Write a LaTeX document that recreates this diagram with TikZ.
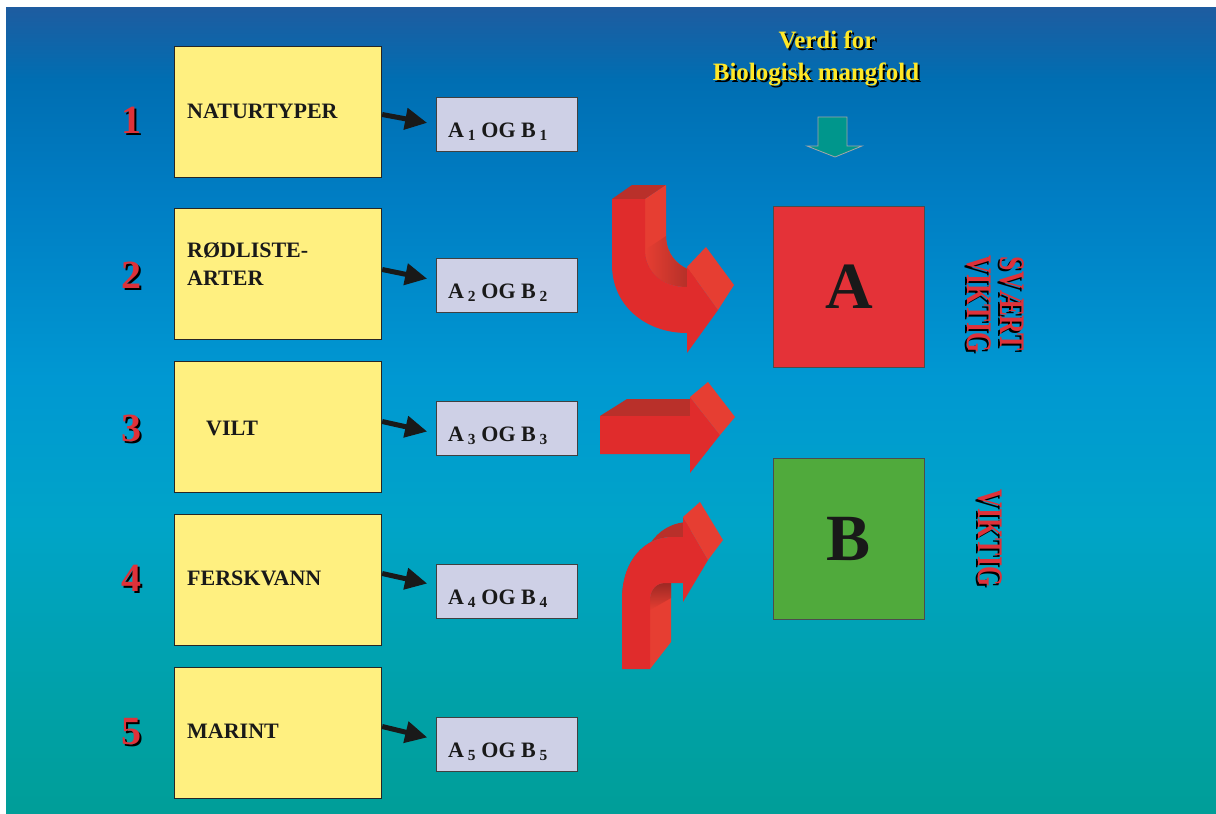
\documentclass[tikz,border=0pt]{standalone}
\usepackage{fontspec}
\setmainfont{Liberation Serif}
\usepackage{graphicx}
\usetikzlibrary{arrows.meta,calc}

\definecolor{gul}{RGB}{255,240,128}
\definecolor{lilla}{RGB}{206,208,230}
\definecolor{tallrod}{RGB}{222,50,58}
\definecolor{overgul}{RGB}{255,232,40}
\definecolor{boksrod}{RGB}{228,50,56}
\definecolor{boksgronn}{RGB}{80,170,60}
\definecolor{turkis}{RGB}{0,150,140}
\definecolor{pilrod}{RGB}{224,44,44}
\definecolor{pilmork}{RGB}{185,48,42}
\definecolor{pillys}{RGB}{230,62,50}
\definecolor{bg0}{RGB}{0,158,152}
\definecolor{bg1}{RGB}{0,161,168}
\definecolor{bg2}{RGB}{0,164,200}
\definecolor{bg3}{RGB}{0,152,210}
\definecolor{bg4}{RGB}{0,126,196}
\definecolor{bg5}{RGB}{0,110,178}
\definecolor{bg6}{RGB}{30,92,160}

\pgfdeclareverticalshading{bakgrunn}{100bp}{color(0bp)=(bg0); color(25bp)=(bg0); color(32bp)=(bg1); color(43bp)=(bg2); color(52bp)=(bg3); color(63bp)=(bg4); color(70.5bp)=(bg5); color(75bp)=(bg6); color(100bp)=(bg6)}

\begin{document}
\begin{tikzpicture}[x=1pt, y=-1pt,
  gulboks/.style={draw=black!85, line width=1.2pt, fill=gul, anchor=north west, minimum width=207pt, minimum height=131pt, inner sep=0pt},
  smaboks/.style={draw=black!75, line width=1pt, fill=lilla, anchor=north west, minimum width=141pt, minimum height=54pt, inner sep=0pt},
  boksetekst/.style={anchor=base west, inner sep=0pt, font=\fontsize{22}{28}\selectfont\bfseries, text=black!90},
  smatekst/.style={anchor=base west, inner sep=0pt, font=\fontsize{22}{25}\selectfont\bfseries, text=black!90},
  tall/.style={anchor=base, inner sep=0pt, font=\fontsize{40}{40}\selectfont\bfseries, text=tallrod},
  overskrift/.style={anchor=base, inner sep=0pt, font=\fontsize{25}{30}\selectfont\bfseries, text=overgul},
  viktig/.style={rotate=-90, inner sep=0pt, align=center, font=\fontsize{36}{33}\selectfont\bfseries, text=tallrod},
  stor/.style={anchor=north west, draw=black!70, line width=0.8pt, minimum width=151pt, minimum height=161pt, inner sep=0pt, font=\fontsize{66}{66}\selectfont\bfseries, text=black!90},
  pil/.style={line width=5pt, black!90, -{Triangle[length=22pt, width=21pt]}, shorten >=9pt}]

\useasboundingbox (0,0) rectangle (1216,814);

\shade[shading=bakgrunn] (6,7) rectangle (1216,814);

\node[overskrift, text=black] (h1s) at (829,50) {Verdi for};

\node[overskrift] (h1) at (827,48) {Verdi for};

\node[overskrift, text=black] (h2s) at (818,82) {Biologisk mangfold};

\node[overskrift] (h2) at (816,80) {Biologisk mangfold};

\filldraw[fill=turkis, draw=gray!70, line width=0.8pt] (818,117) -- (847,117) -- (847,146) -- (862,146) -- (835,157) -- (807,146) -- (818,146) -- cycle;

\node[gulboks] (y1) at (174,46) {};

\node[gulboks] (y2) at (174,208) {};

\node[gulboks] (y3) at (174,361) {};

\node[gulboks] (y4) at (174,514) {};

\node[gulboks] (y5) at (174,667) {};

\node[boksetekst] (t1) at (187,118) {NATURTYPER};

\node[boksetekst, anchor=west, align=left] (t2) at (187,264) {RØDLISTE-\\ARTER};

\node[boksetekst] (t3) at (206,435) {VILT};

\node[boksetekst] (t4) at (187,585) {FERSKVANN};

\node[boksetekst] (t5) at (187,738) {MARINT};

\node[tall, text=black] (n1s) at (133,135) {1};
\node[tall] (n1) at (131,133) {1};

\node[tall, text=black] (n2s) at (133,290) {2};
\node[tall] (n2) at (131,288) {2};

\node[tall, text=black] (n3s) at (133,443) {3};
\node[tall] (n3) at (131,441) {3};

\node[tall, text=black] (n4s) at (133,593) {4};
\node[tall] (n4) at (131,591) {4};

\node[tall, text=black] (n5s) at (133,746) {5};
\node[tall] (n5) at (131,744) {5};

\node[smaboks] (s1) at (436,97) {};

\node[smaboks] (s2) at (436,258) {};

\node[smaboks] (s3) at (436,401) {};

\node[smaboks] (s4) at (436,564) {};

\node[smaboks] (s5) at (436,717) {};

\node[smatekst] (a1) at (448,137) {A\,\textsubscript{1} OG B\,\textsubscript{1}};

\node[smatekst] (a2) at (448,298) {A\,\textsubscript{2} OG B\,\textsubscript{2}};

\node[smatekst] (a3) at (448,441) {A\,\textsubscript{3} OG B\,\textsubscript{3}};

\node[smatekst] (a4) at (448,604) {A\,\textsubscript{4} OG B\,\textsubscript{4}};

\node[smatekst] (a5) at (448,757) {A\,\textsubscript{5} OG B\,\textsubscript{5}};

\draw[pil] ($(y1.east |- s1.west)+(0,-10)$) -- (s1.west);

\draw[pil] ($(y2.east |- s2.west)+(0,-16)$) -- ($(s2.west)+(0,-5)$);

\draw[pil] ($(y3.east |- s3.west)+(0,-7)$) -- ($(s3.west)+(0,5)$);

\draw[pil] ($(y4.east |- s4.west)+(0,-18)$) -- ($(s4.west)+(0,-6)$);

\draw[pil] ($(y5.east |- s5.west)+(0,-18)$) -- ($(s5.west)+(0,-5)$);

\fill[pilmork] (612,199) -- (632,185) -- (666,185) -- (645,199) -- cycle;

\fill[pillys] (645,199) -- (666,185) -- (666,236) .. controls (666,256) and (681,273) .. (708,273) -- (687,287) .. controls (660,287) and (645,270) .. (645,250) -- cycle;

\shade[left color=pillys, right color=pilmork!85!black] (666,236) .. controls (666,256) and (681,273) .. (708,273) -- (687,287) .. controls (660,287) and (645,270) .. (645,250) -- cycle;

\fill[pilrod] (612,199) -- (612,265) .. controls (612,305) and (645,333) .. (687,333) -- (687,353) -- (718,310) -- (687,267) -- (687,287) .. controls (660,287) and (645,270) .. (645,250) -- (645,199) -- cycle;

\fill[pillys] (687,267) -- (706,247) -- (734,285) -- (718,310) -- cycle;

\fill[pilmork] (600,416) -- (627,399) -- (690,399) -- (690,416) -- cycle;

\fill[pilrod] (600,416) -- (690,416) -- (690,397) -- (720,435) -- (690,473) -- (690,454) -- (600,454) -- cycle;

\fill[pillys] (690,397) -- (708,382) -- (735,417) -- (720,435) -- cycle;

\fill[pilmork] (622,600) .. controls (622,560) and (645,537) .. (672,537) -- (683,537) -- (700,522) -- (689,522) .. controls (662,522) and (639,545) .. (639,585) -- cycle;

\fill[pillys] (650,669) -- (671,642) -- (671,583) -- (665,583) .. controls (656,583) and (650,590) .. (650,600) -- cycle;

\shade[top color=pilmork!85!black, bottom color=pillys] (671,583) -- (665,583) .. controls (656,583) and (650,590) .. (650,600) -- (650,610) -- (671,598) -- cycle;

\fill[pilrod] (622,669) -- (622,600) .. controls (622,560) and (645,537) .. (672,537) -- (683,537) -- (683,517) -- (708,560) -- (683,602) -- (683,583) -- (665,583) .. controls (656,583) and (650,590) .. (650,600) -- (650,669) -- cycle;

\fill[pillys] (683,517) -- (700,502) -- (723,540) -- (708,560) -- cycle;

\node[stor, fill=boksrod] (A) at (773,206) {A};

\node[stor, fill=boksgronn] (B) at (773,458) {B};

\node[viktig, text=black] (sv0s) at (994,306) {\scalebox{0.72}[1]{SVÆRT}\\\scalebox{0.72}[1]{VIKTIG}};

\node[viktig] (sv0) at (996,304) {\scalebox{0.72}[1]{SVÆRT}\\\scalebox{0.72}[1]{VIKTIG}};

\node[viktig, text=black] (vks) at (988,540) {\scalebox{0.72}[1]{VIKTIG}};

\node[viktig] (vk) at (990,538) {\scalebox{0.72}[1]{VIKTIG}};

\end{tikzpicture}
\end{document}
